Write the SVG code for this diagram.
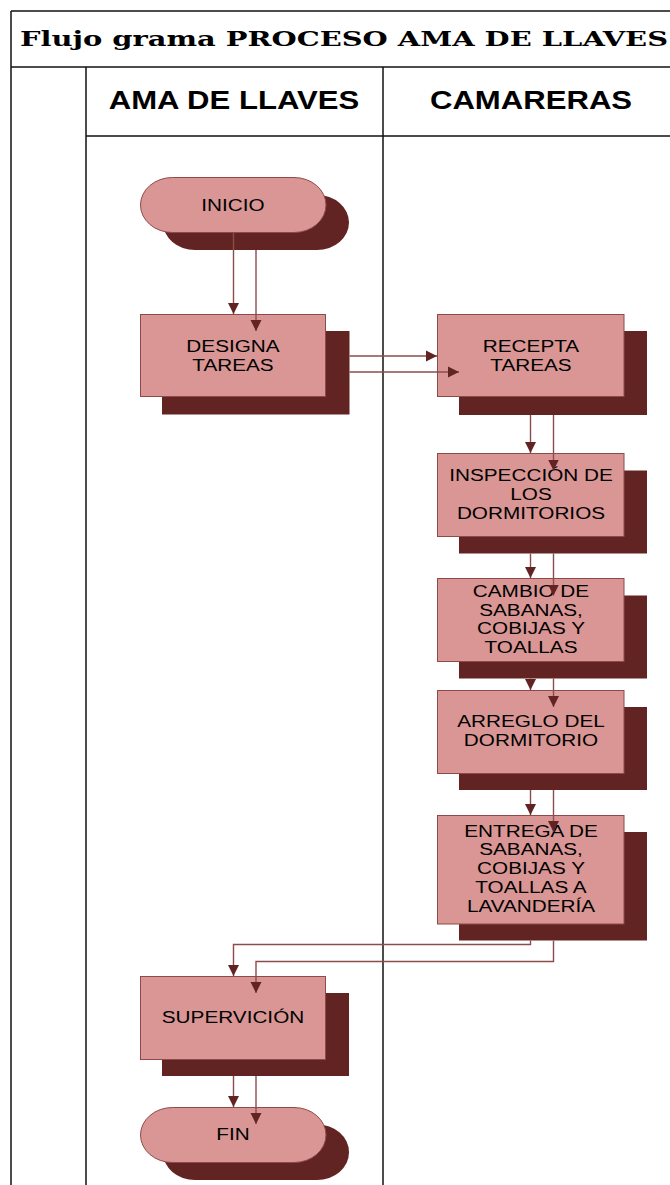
<svg xmlns="http://www.w3.org/2000/svg" width="670" height="1185" viewBox="0 0 670 1185">
  <style>
    .grid { stroke: #111; stroke-width: 1.5; fill: none; }
    .title { font-family: "DejaVu Serif", "Liberation Serif", serif; font-weight: bold; font-size: 21px; fill: #000; }
    .lane { font-family: "Liberation Sans", Arial, sans-serif; font-weight: bold; font-size: 25.5px; fill: #000; text-anchor: middle; }
    .box { fill: #d99694; stroke: #8e4a48; stroke-width: 1; }
    .shadow { fill: #622423; }
    .label { font-family: "Liberation Sans", Arial, sans-serif; font-size: 17px; fill: #000; text-anchor: middle; }
    .flow { fill: none; stroke: #8b4c4a; stroke-width: 1.4; marker-end: url(#arrow); }
  </style>
  <defs>
    <marker id="arrow" markerUnits="userSpaceOnUse" markerWidth="12" markerHeight="12" viewBox="0 0 12 12" refX="11" refY="6" orient="auto">
      <path d="M0,0.5 L11,6 L0,11.5 Z" fill="#622423"/>
    </marker>
  </defs>

  <rect width="670" height="1185" fill="#fff"/>

  <!-- table frame -->
  <g id="table">
    <line class="grid" x1="11" y1="11" x2="670" y2="11" stroke-width="2"/>
    <line class="grid" x1="11" y1="11" x2="11" y2="1185"/>
    <line class="grid" x1="11" y1="67" x2="670" y2="67"/>
    <line class="grid" x1="86" y1="67" x2="86" y2="1185" stroke-width="2"/>
    <line class="grid" x1="383" y1="67" x2="383" y2="1185"/>
    <line class="grid" x1="86" y1="136" x2="670" y2="136"/>
    <text class="title" x="20" y="46" textLength="648" lengthAdjust="spacingAndGlyphs">Flujo grama PROCESO AMA DE LLAVES</text>
    <text class="lane" transform="translate(234 0) scale(1.22 1)" x="0" y="109">AMA DE LLAVES</text>
    <text class="lane" transform="translate(531 0) scale(1.22 1)" x="0" y="109">CAMARERAS</text>
  </g>

  <!-- nodes -->
  <g id="inicio">
    <rect class="shadow" x="163" y="195" width="186" height="55" rx="32" ry="27.5"/>
    <rect class="box" x="140.5" y="177.5" width="185.5" height="55" rx="32" ry="27.5"/>
    <text class="label" transform="translate(233 0) scale(1.22 1)" x="0" y="211">INICIO</text>
  </g>

  <g id="designa">
    <rect class="shadow" x="162" y="331" width="187.5" height="83.5"/>
    <rect class="box" x="140.5" y="314.5" width="185" height="82"/>
    <text class="label" transform="translate(233 0) scale(1.22 1)" x="0" y="352">DESIGNA</text>
    <text class="label" transform="translate(233 0) scale(1.22 1)" x="0" y="371">TAREAS</text>
  </g>

  <g id="recepta">
    <rect class="shadow" x="459" y="331" width="188" height="84"/>
    <rect class="box" x="437.5" y="314.5" width="186.5" height="82"/>
    <text class="label" transform="translate(531 0) scale(1.22 1)" x="0" y="352">RECEPTA</text>
    <text class="label" transform="translate(531 0) scale(1.22 1)" x="0" y="371">TAREAS</text>
  </g>

  <g id="inspeccion">
    <rect class="shadow" x="459" y="470.5" width="188" height="83"/>
    <rect class="box" x="437.5" y="453.5" width="186.5" height="83"/>
    <text class="label" transform="translate(531 0) scale(1.22 1)" x="0" y="481">INSPECCIÓN DE</text>
    <text class="label" transform="translate(531 0) scale(1.22 1)" x="0" y="500">LOS</text>
    <text class="label" transform="translate(531 0) scale(1.22 1)" x="0" y="519">DORMITORIOS</text>
  </g>

  <g id="cambio">
    <rect class="shadow" x="459" y="595.5" width="188" height="83"/>
    <rect class="box" x="437.5" y="578.5" width="186.5" height="83"/>
    <text class="label" transform="translate(531 0) scale(1.22 1)" x="0" y="597">CAMBIO DE</text>
    <text class="label" transform="translate(531 0) scale(1.22 1)" x="0" y="616">SABANAS,</text>
    <text class="label" transform="translate(531 0) scale(1.22 1)" x="0" y="634.5">COBIJAS Y</text>
    <text class="label" transform="translate(531 0) scale(1.22 1)" x="0" y="653">TOALLAS</text>
  </g>

  <g id="arreglo">
    <rect class="shadow" x="459" y="707" width="188" height="83"/>
    <rect class="box" x="437.5" y="690.5" width="186.5" height="83"/>
    <text class="label" transform="translate(531 0) scale(1.22 1)" x="0" y="727">ARREGLO DEL</text>
    <text class="label" transform="translate(531 0) scale(1.22 1)" x="0" y="746">DORMITORIO</text>
  </g>

  <g id="entrega">
    <rect class="shadow" x="459" y="832" width="188" height="108.5"/>
    <rect class="box" x="437.5" y="815.5" width="186.5" height="108.5"/>
    <text class="label" transform="translate(531 0) scale(1.22 1)" x="0" y="837">ENTREGA DE</text>
    <text class="label" transform="translate(531 0) scale(1.22 1)" x="0" y="855.5">SABANAS,</text>
    <text class="label" transform="translate(531 0) scale(1.22 1)" x="0" y="874">COBIJAS Y</text>
    <text class="label" transform="translate(531 0) scale(1.22 1)" x="0" y="893">TOALLAS A</text>
    <text class="label" transform="translate(531 0) scale(1.22 1)" x="0" y="912">LAVANDERÍA</text>
  </g>

  <g id="supervicion">
    <rect class="shadow" x="162" y="993" width="187" height="83"/>
    <rect class="box" x="140.5" y="976.5" width="185" height="83"/>
    <text class="label" transform="translate(233 0) scale(1.22 1)" x="0" y="1023">SUPERVICIÓN</text>
  </g>

  <g id="fin">
    <rect class="shadow" x="163" y="1124.5" width="186" height="55.5" rx="32" ry="27.5"/>
    <rect class="box" x="140.5" y="1107.5" width="185.5" height="55" rx="32" ry="27.5"/>
    <text class="label" transform="translate(233 0) scale(1.22 1)" x="0" y="1140">FIN</text>
  </g>

  <!-- connectors: each link is drawn twice, once from the box and once from its shadow -->
  <g id="connectors">
    <path class="flow" d="M233.5,233 V314"/>
    <path class="flow" d="M256,250 V331"/>

    <path class="flow" d="M349.5,356 H437"/>
    <path class="flow" d="M349.5,372 H459"/>

    <path class="flow" d="M530.5,415 V453"/>
    <path class="flow" d="M553.5,415 V470.5"/>

    <path class="flow" d="M530.5,553.5 V578"/>
    <path class="flow" d="M553.5,553.5 V595.5"/>

    <path class="flow" d="M530.5,678.5 V690"/>
    <path class="flow" d="M553.5,678.5 V707"/>

    <path class="flow" d="M530.5,790 V815"/>
    <path class="flow" d="M553.5,790 V832"/>

    <path class="flow" d="M530.5,940.5 V944.5 H233.5 V976"/>
    <path class="flow" d="M553.5,940.5 V961.5 H256 V993"/>

    <path class="flow" d="M233.5,1076 V1107"/>
    <path class="flow" d="M256,1076 V1124"/>
  </g>
</svg>
